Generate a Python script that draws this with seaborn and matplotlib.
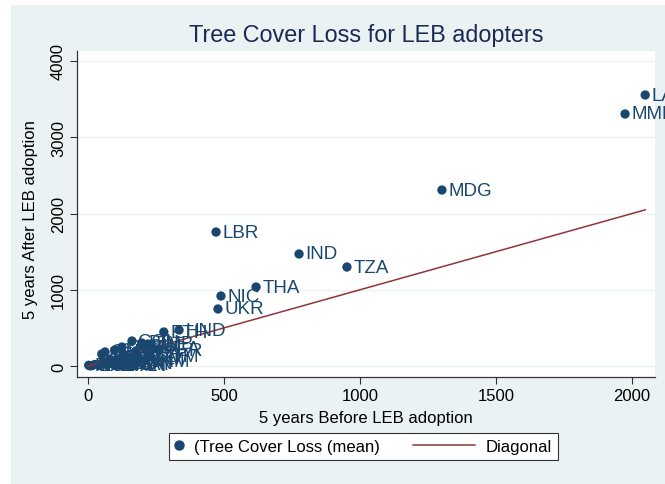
import numpy as np
import pandas as pd
import matplotlib
matplotlib.use("Agg")
import matplotlib.pyplot as plt
import seaborn as sns
from matplotlib.lines import Line2D
from matplotlib.legend_handler import HandlerLine2D

# Данные: потеря лесного покрова (среднее) за 5 лет до и после принятия LEB
countries = ["LAO", "MMR", "MDG", "LBR", "IND", "TZA", "THA", "NIC", "UKR",
             "HND", "ETH", "UGA", "COL", "GIN", "ZMB", "BDI", "CMR", "COD",
             "GHA", "KEN", "MOZ", "NGA", "PER", "BOL", "SLE", "CIV", "KHM",
             "VNM", "GTM", "PNG", "ECU", "MWI", "RWA", "BEN", "TGO", "BFA",
             "NPL", "LKA", "PAN", "SDN", "CAF", "GAB"]
before = [2048, 1974, 1301, 471, 776, 952, 618, 489, 478,
          335, 279, 240, 162, 199, 221, 198, 125, 99,
          63, 51, 150, 175, 260, 110, 80, 130, 180,
          200, 230, 3, 15, 25, 40, 55, 70, 85,
          100, 115, 130, 145, 160, 8]
after = [3554, 3305, 2308, 1757, 1469, 1298, 1036, 918, 748,
         472, 446, 230, 328, 262, 289, 302, 249, 210,
         184, 157, 120, 180, 210, 95, 90, 160, 90,
         60, 130, 10, 5, 20, 8, 30, 15, 40,
         10, 25, 5, 35, 20, 2]

x_ticks = [0, 500, 1000, 1500, 2000]
y_ticks = [0, 1000, 2000, 3000, 4000]

navy = "#1A476F"
maroon = "#90353B"
bg = "#EAF2F3"

df = pd.DataFrame({"country": countries, "before": before, "after": after})
diag = pd.DataFrame({"x": [0, max(before)], "y": [0, max(before)]})


class LongLine(HandlerLine2D):
    # линия в легенде длиннее, чем маркер (как в Stata)
    def get_xdata(self, legend, xdescent, ydescent, width, height, fontsize):
        xd = [-xdescent + width - 44.6, -xdescent + width]
        return xd, xd


plt.rcParams["font.family"] = ["Liberation Sans", "DejaVu Sans"]

fig = plt.figure(figsize=(6.65, 4.85), dpi=100)
fig.patch.set_facecolor("white")
# фон графической области как в Stata
fig.patches.append(plt.Rectangle((11 / 665, 0), 1, 1 - 6 / 485,
                                 transform=fig.transFigure, facecolor=bg,
                                 edgecolor="none", zorder=-10))

ax = fig.add_axes([77 / 665, 1 - 378 / 485, 578 / 665, 326 / 485])
ax.set_facecolor("white")

sns.scatterplot(data=df, x="before", y="after", ax=ax, color=navy, s=45,
                edgecolor="none", zorder=3)
sns.lineplot(data=diag, x="x", y="y", ax=ax, color=maroon, lw=1.1, zorder=4)

for _, r in df.iterrows():
    ax.annotate(r["country"], (r["before"], r["after"]), xytext=(4.5, 0),
                textcoords="offset points", va="center", ha="left",
                fontsize=13.5, color=navy, zorder=5, annotation_clip=False)

ax.set_xlim(-40, 2084)
ax.set_ylim(-144, 4131)
ax.set_xticks(x_ticks)
ax.set_yticks(y_ticks)
ax.grid(axis="y", color=bg, lw=1)
ax.set_axisbelow(True)
for s in ["top", "right"]:
    ax.spines[s].set_visible(False)
for s in ["left", "bottom"]:
    ax.spines[s].set_color("#333333")
    ax.spines[s].set_linewidth(0.9)
ax.tick_params(direction="out", length=5, width=0.8, color="#333333",
               labelsize=12, labelcolor="black", pad=3)
plt.setp(ax.get_yticklabels(), rotation=90, va="center")

ax.set_xlabel("5 years Before LEB adoption", fontsize=12)
ax.set_ylabel("5 years After LEB adoption", fontsize=12)
ax.xaxis.set_label_coords(0.5, -0.1)
ax.yaxis.set_label_coords(-0.067, 0.485)
ax.set_title("Tree Cover Loss for LEB adopters", fontsize=16.8,
             color="#1C2951", pad=7)

h_dot = Line2D([], [], marker="o", ls="none", color=navy, markersize=6.5)
h_line = Line2D([], [], color=maroon, lw=1.1)
leg = fig.legend([h_dot, h_line], ["(Tree Cover Loss (mean)", "Diagonal"],
                 loc="center", bbox_to_anchor=(363.5 / 665, 1 - 447.5 / 485),
                 ncol=2, fontsize=12, frameon=True, fancybox=False,
                 handlelength=0.5, columnspacing=5.2, handletextpad=0.65,
                 borderpad=0.35, handler_map={h_line: LongLine()})
leg.get_frame().set_edgecolor("#333333")
leg.get_frame().set_linewidth(0.8)
leg.get_frame().set_facecolor("white")
leg.get_frame().set_alpha(1)

fig.savefig("out.png", dpi=100)
